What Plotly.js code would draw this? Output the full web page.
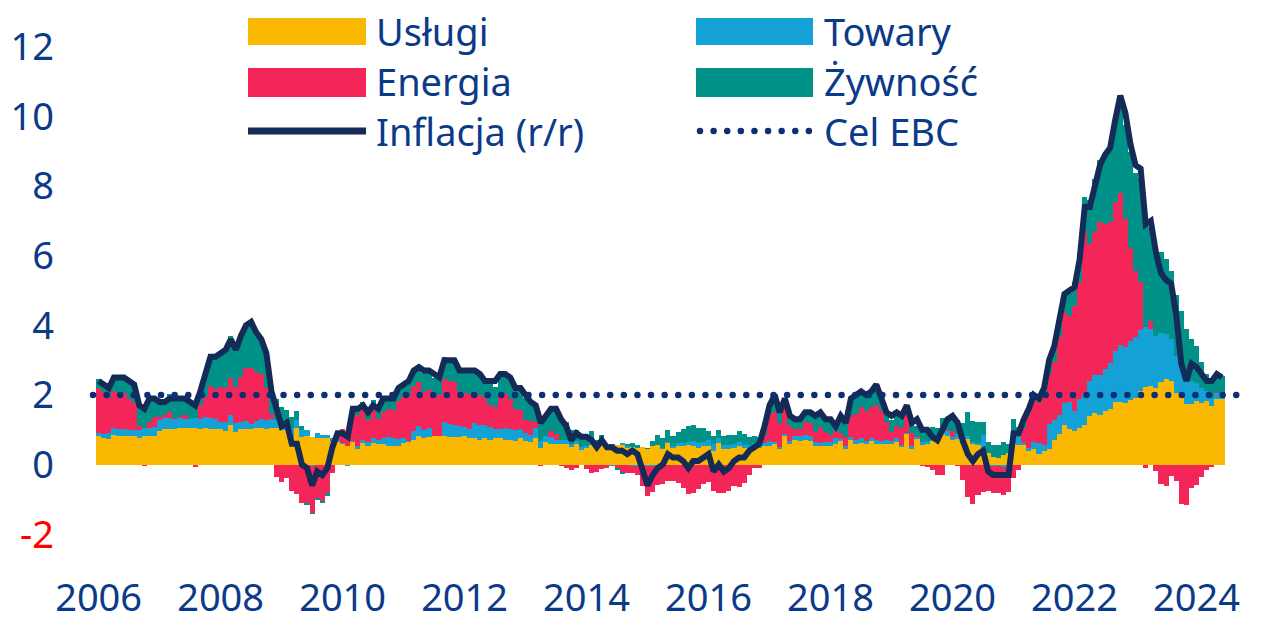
<!DOCTYPE html>
<html>
<head>
<meta charset="utf-8">
<script src="https://cdn.plot.ly/plotly-3.0.1.min.js"></script>
<style>
html,body{margin:0;padding:0;background:#ffffff;}
#chart{width:1274px;height:637px;}
</style>
</head>
<body>
<div id="chart"></div>
<script>
// ---- categories: monthly, Jan 2006 - Jun 2024 ----
const firstYear = 2006, lastYear = 2024, lastMonth = 6;
const months = [];
for (let y = firstYear; y <= lastYear; y++) {
  for (let m = 1; m <= 12; m++) {
    if (y === lastYear && m > lastMonth) break;
    months.push(y + '-' + String(m).padStart(2, '0'));
  }
}
const tickYears = ['2006','2008','2010','2012','2014','2016','2018','2020','2022','2024'];

// ---- series (contributions, pp) ----
const inflacja = [
  2.4,2.3,2.2,2.5,2.5,2.5,2.4,2.3,1.7,1.6,1.9,1.9,
  1.8,1.8,1.9,1.9,1.9,1.9,1.8,1.7,2.1,2.6,3.1,3.1,
  3.2,3.3,3.6,3.3,3.7,4.0,4.1,3.8,3.6,3.2,2.1,1.6,
  1.1,1.2,0.6,0.6,0.0,-0.1,-0.6,-0.2,-0.3,-0.1,0.5,0.9,
  0.9,0.8,1.6,1.6,1.7,1.5,1.7,1.6,1.9,1.9,1.9,2.2,
  2.3,2.4,2.7,2.8,2.7,2.7,2.6,2.5,3.0,3.0,3.0,2.7,
  2.7,2.7,2.7,2.6,2.4,2.4,2.4,2.6,2.6,2.5,2.2,2.2,
  2.0,1.8,1.7,1.2,1.4,1.6,1.6,1.3,1.1,0.7,0.9,0.8,
  0.8,0.7,0.5,0.7,0.5,0.5,0.4,0.4,0.3,0.4,0.3,-0.2,
  -0.6,-0.3,-0.1,0.0,0.3,0.2,0.2,0.1,-0.1,0.1,0.1,0.2,
  0.3,-0.2,0.0,-0.2,-0.1,0.1,0.2,0.2,0.4,0.5,0.6,1.1,
  1.7,2.0,1.5,1.9,1.4,1.3,1.3,1.5,1.5,1.4,1.5,1.3,
  1.3,1.1,1.4,1.2,1.9,2.0,2.1,2.0,2.1,2.3,1.9,1.5,
  1.4,1.5,1.4,1.7,1.2,1.3,1.0,1.0,0.8,0.7,1.0,1.3,
  1.4,1.2,0.7,0.3,0.1,0.3,0.4,-0.2,-0.3,-0.3,-0.3,-0.3,
  0.9,0.9,1.3,1.6,2.0,1.9,2.2,3.0,3.4,4.1,4.9,5.0,
  5.1,5.9,7.4,7.4,8.1,8.6,8.9,9.1,9.9,10.6,10.1,9.2,
  8.6,8.5,6.9,7.0,6.1,5.5,5.3,5.2,4.3,2.9,2.4,2.9,
  2.8,2.6,2.4,2.4,2.6,2.5
];
const uslugi = [
  0.81,0.77,0.73,0.85,0.81,0.81,0.81,0.81,0.77,0.81,0.81,0.81,
  0.97,1.01,1.01,1.01,1.05,1.05,1.05,1.05,1.01,1.05,1.01,1.01,
  1.01,0.97,1.13,0.93,1.01,1.01,1.01,1.05,1.05,1.01,1.05,1.05,
  1.00,1.00,0.79,1.04,0.79,0.83,0.79,0.75,0.75,0.75,0.66,0.66,
  0.58,0.54,0.66,0.46,0.62,0.54,0.62,0.58,0.58,0.54,0.54,0.54,
  0.62,0.66,0.71,0.83,0.75,0.79,0.83,0.83,0.83,0.79,0.79,0.79,
  0.81,0.77,0.77,0.72,0.77,0.72,0.77,0.77,0.72,0.72,0.68,0.77,
  0.68,0.64,0.77,0.47,0.64,0.60,0.60,0.60,0.60,0.51,0.60,0.43,
  0.47,0.55,0.47,0.68,0.47,0.55,0.55,0.55,0.47,0.51,0.47,0.51,
  0.44,0.52,0.57,0.44,0.61,0.48,0.52,0.52,0.57,0.52,0.48,0.52,
  0.53,0.40,0.62,0.44,0.44,0.48,0.53,0.48,0.48,0.53,0.48,0.53,
  0.54,0.59,0.45,0.81,0.59,0.72,0.68,0.72,0.68,0.54,0.54,0.54,
  0.54,0.59,0.68,0.45,0.72,0.59,0.63,0.59,0.68,0.59,0.59,0.59,
  0.60,0.64,0.51,0.87,0.46,0.74,0.55,0.60,0.69,0.69,0.87,0.83,
  0.70,0.74,0.60,0.74,0.60,0.56,0.42,0.33,0.23,0.19,0.28,0.33,
  0.59,0.55,0.55,0.38,0.46,0.29,0.38,0.46,0.71,0.88,1.13,1.01,
  0.97,1.05,1.13,1.39,1.47,1.43,1.55,1.60,1.81,1.81,1.76,1.85,
  1.92,2.10,2.23,2.27,2.19,2.36,2.45,2.40,2.05,2.01,1.75,1.75,
  1.83,1.78,1.83,1.69,1.87,1.87
];
const towary = [
  0.09,0.12,0.18,0.21,0.21,0.21,0.18,0.18,0.21,0.24,0.24,0.27,
  0.30,0.33,0.33,0.30,0.30,0.27,0.27,0.30,0.30,0.33,0.33,0.30,
  0.21,0.24,0.30,0.27,0.21,0.24,0.15,0.21,0.27,0.27,0.27,0.24,
  0.15,0.20,0.26,0.23,0.20,0.17,-0.03,0.15,0.09,0.09,0.09,0.06,
  0.03,-0.03,0.03,0.06,0.09,0.12,0.15,0.12,0.17,0.26,0.23,0.20,
  0.15,0.03,0.26,0.29,0.23,0.26,-0.02,0.00,0.38,0.38,0.35,0.32,
  0.28,0.25,0.42,0.42,0.36,0.36,0.25,0.25,0.34,0.31,0.31,0.25,
  0.22,0.22,0.28,0.22,0.17,0.20,0.11,0.11,0.11,0.08,0.08,0.08,
  0.05,0.11,0.05,0.03,0.00,-0.03,0.00,0.08,0.05,-0.03,-0.03,0.00,
  -0.03,-0.03,-0.03,0.03,0.05,0.05,0.11,0.11,0.08,0.16,0.13,0.13,
  0.19,0.19,0.13,0.13,0.13,0.11,0.11,0.08,0.08,0.08,0.08,0.08,
  0.13,0.05,0.05,0.08,0.08,0.11,0.13,0.13,0.13,0.11,0.08,0.11,
  0.11,0.16,0.05,0.08,0.08,0.11,0.13,0.08,0.08,0.11,0.08,0.11,
  0.08,0.13,0.05,0.05,0.08,0.05,0.11,0.08,0.08,0.08,0.11,0.13,
  0.08,0.13,0.13,0.08,0.05,0.05,0.42,-0.03,-0.03,-0.03,-0.08,-0.13,
  0.41,0.27,0.08,0.11,0.19,0.32,0.19,0.70,0.57,0.54,0.65,0.78,
  0.56,0.82,0.90,1.01,1.11,1.14,1.19,1.33,1.46,1.62,1.62,1.70,
  1.74,1.77,1.72,1.61,1.51,1.43,1.30,1.22,1.07,0.91,0.75,0.65,
  0.51,0.41,0.28,0.23,0.18,0.18
];
const energia = [
  1.29,1.19,1.00,1.05,1.05,1.05,0.90,0.77,0.14,-0.05,0.18,0.28,
  0.09,0.08,0.17,0.04,0.03,0.09,-0.02,-0.08,0.40,0.55,0.92,0.87,
  1.01,0.99,1.06,1.03,1.30,1.53,1.62,1.39,1.28,0.91,0.12,-0.35,
  -0.50,-0.39,-0.77,-0.84,-1.10,-1.11,-1.37,-0.97,-1.05,-0.81,-0.23,0.17,
  0.40,0.33,0.72,0.91,0.92,0.62,0.81,0.61,0.77,0.80,0.79,1.10,
  1.20,1.31,1.30,1.25,1.11,1.09,1.18,1.18,1.24,1.24,1.23,0.97,
  0.97,1.00,0.89,0.85,0.77,0.64,0.64,0.93,0.96,0.84,0.60,0.55,
  0.39,0.39,0.17,-0.04,-0.02,0.16,0.16,-0.03,-0.09,-0.17,-0.11,0.00,
  -0.12,-0.23,-0.21,-0.12,-0.11,0.01,-0.10,-0.20,-0.23,-0.20,-0.26,-0.63,
  -0.88,-0.75,-0.57,-0.55,-0.48,-0.48,-0.53,-0.68,-0.85,-0.81,-0.69,-0.55,
  -0.51,-0.77,-0.83,-0.83,-0.77,-0.61,-0.64,-0.53,-0.29,-0.09,-0.10,0.25,
  0.77,0.88,0.70,0.72,0.43,0.18,0.21,0.38,0.37,0.29,0.45,0.28,
  0.21,0.20,0.19,0.25,0.58,0.76,0.90,0.87,0.90,1.02,0.86,0.52,
  0.26,0.34,0.50,0.50,0.36,0.02,-0.05,-0.06,-0.17,-0.29,-0.30,0.02,
  0.18,-0.03,-0.43,-0.92,-1.13,-0.88,-0.80,-0.74,-0.78,-0.79,-0.79,-0.66,
  -0.40,-0.16,0.41,0.99,1.24,1.20,1.36,1.46,1.67,2.25,2.61,2.47,
  3.02,3.36,4.65,3.94,4.11,4.41,4.16,4.05,4.27,4.36,3.66,2.68,
  1.89,1.37,-0.09,0.24,-0.18,-0.56,-0.61,-0.33,-0.46,-1.12,-1.15,-0.67,
  -0.58,-0.35,-0.17,-0.06,0.03,0.02
];
const zywnosc = [
  0.28,0.28,0.33,0.42,0.46,0.46,0.52,0.52,0.55,0.56,0.60,0.58,
  0.47,0.47,0.51,0.51,0.45,0.47,0.49,0.49,0.50,0.70,0.84,0.86,
  1.01,1.09,1.19,1.07,1.15,1.17,1.25,1.12,1.01,0.95,0.68,0.60,
  0.49,0.37,0.31,0.27,0.12,-0.04,-0.02,-0.04,-0.04,-0.10,-0.02,0.00,
  -0.02,0.02,0.10,0.16,0.16,0.18,0.27,0.33,0.33,0.31,0.35,0.41,
  0.37,0.45,0.47,0.47,0.53,0.53,0.49,0.53,0.64,0.59,0.62,0.59,
  0.62,0.64,0.64,0.60,0.59,0.62,0.57,0.59,0.57,0.57,0.60,0.62,
  0.62,0.53,0.53,0.57,0.62,0.62,0.68,0.62,0.51,0.39,0.31,0.33,
  0.33,0.29,0.20,0.14,0.02,0.04,-0.06,-0.06,0.06,0.10,0.10,0.00,
  0.05,0.15,0.28,0.30,0.33,0.30,0.30,0.38,0.45,0.45,0.45,0.40,
  0.25,0.22,0.25,0.25,0.27,0.27,0.33,0.32,0.24,0.20,0.22,0.28,
  0.33,0.49,0.35,0.29,0.29,0.25,0.27,0.27,0.37,0.43,0.43,0.41,
  0.37,0.20,0.41,0.51,0.51,0.53,0.49,0.47,0.51,0.43,0.37,0.35,
  0.34,0.44,0.29,0.29,0.30,0.30,0.27,0.27,0.32,0.29,0.36,0.38,
  0.40,0.42,0.46,0.68,0.61,0.61,0.38,0.32,0.34,0.36,0.36,0.25,
  0.32,0.27,0.23,0.11,0.13,0.11,0.34,0.42,0.40,0.42,0.46,0.67,
  0.70,0.84,1.00,1.26,1.50,1.78,1.96,2.12,2.36,2.62,2.72,2.76,
  2.82,3.00,3.08,2.70,2.50,2.32,2.16,1.94,1.76,1.48,1.38,1.22,
  1.08,0.77,0.50,0.54,0.50,0.48
];
const celEBC = 2;

// ---- styles ----
const FONT = '"Noto Sans", "Open Sans", sans-serif';
const TXT = '#0B3A88';
const C = {
  uslugi: '#FBB800', towary: '#14A2D6', energia: '#F42559', zywnosc: '#009188',
  line: '#142B58', dots: '#0B2F72'
};

// ---- plot geometry (pixels) ----
const W = 1274, H = 637;
const M = {l: 91, r: 19, t: 12, b: 68};
const PW = W - M.l - M.r, PH = H - M.t - M.b;
const px = x => (x - M.l) / PW;
const py = y => (H - M.b - y) / PH;

const bar = (name, y, color) => ({
  type: 'bar', name: name, x: months, y: y,
  marker: {color: color, line: {width: 0}},
  hoverinfo: 'skip', showlegend: false
});

const data = [
  bar('Usługi', uslugi, C.uslugi),
  bar('Towary', towary, C.towary),
  bar('Energia', energia, C.energia),
  bar('Żywność', zywnosc, C.zywnosc),
  {type: 'scatter', mode: 'lines', name: 'Inflacja (r/r)', x: months, y: inflacja,
   line: {color: C.line, width: 6, shape: 'linear'}, hoverinfo: 'skip', showlegend: false},
  {type: 'scatter', mode: 'lines', name: 'axis-helper', x: [], y: [], yaxis: 'y2',
   hoverinfo: 'skip', showlegend: false}
];

const yCommon = {
  range: [-3, 13], showgrid: false, zeroline: false, showline: false,
  ticks: '', ticklabelstandoff: 36, fixedrange: true
};

const DOT_DASH = '6px,7.6px';
const shapes = [
  // ECB target (dotted)
  {type: 'line', xref: 'paper', yref: 'y', x0: px(93), x1: px(1244), y0: celEBC, y1: celEBC,
   line: {color: C.dots, width: 6.5, dash: DOT_DASH}, layer: 'above'},
  // legend swatches
  {type: 'rect', xref: 'paper', yref: 'paper', x0: px(248), x1: px(366), y0: py(45), y1: py(18),
   fillcolor: C.uslugi, line: {width: 0}},
  {type: 'rect', xref: 'paper', yref: 'paper', x0: px(248), x1: px(366), y0: py(97), y1: py(68),
   fillcolor: C.energia, line: {width: 0}},
  {type: 'line', xref: 'paper', yref: 'paper', x0: px(248), x1: px(366), y0: py(131), y1: py(131),
   line: {color: C.line, width: 7}},
  {type: 'rect', xref: 'paper', yref: 'paper', x0: px(696), x1: px(813), y0: py(45), y1: py(18),
   fillcolor: C.towary, line: {width: 0}},
  {type: 'rect', xref: 'paper', yref: 'paper', x0: px(696), x1: px(813), y0: py(97), y1: py(68),
   fillcolor: C.zywnosc, line: {width: 0}},
  {type: 'line', xref: 'paper', yref: 'paper', x0: px(700), x1: px(812), y0: py(131), y1: py(131),
   line: {color: C.dots, width: 6.5, dash: DOT_DASH}}
];

const legText = (text, x, y) => ({
  text: text, xref: 'paper', yref: 'paper', x: px(x), y: py(y),
  xanchor: 'left', yanchor: 'middle', showarrow: false,
  font: {family: FONT, size: 38, color: TXT}
});
const annotations = [
  legText('Usługi', 374, 31),
  legText('Energia', 374, 81),
  legText('Inflacja (r/r)', 374, 131),
  legText('Towary', 822, 31),
  legText('Żywność', 822, 81),
  legText('Cel EBC', 822, 131)
];

const layout = {
  width: W, height: H,
  margin: M,
  paper_bgcolor: '#ffffff', plot_bgcolor: '#ffffff',
  font: {family: FONT, color: TXT},
  barmode: 'relative', bargap: 0,
  showlegend: false,
  xaxis: {
    type: 'category', range: [-1.5, 227.5],
    tickvals: tickYears.map(y => y + '-01'), ticktext: tickYears,
    tickfont: {family: FONT, size: 38, color: TXT},
    showgrid: false, zeroline: false, showline: false, ticks: '',
    ticklabelstandoff: 3, fixedrange: true
  },
  yaxis: Object.assign({}, yCommon, {
    tickvals: [0, 2, 4, 6, 8, 10, 12],
    tickfont: {family: FONT, size: 38, color: TXT}
  }),
  yaxis2: Object.assign({}, yCommon, {
    overlaying: 'y', side: 'left', anchor: 'x',
    tickvals: [-2], ticktext: ['-2'],
    tickfont: {family: FONT, size: 38, color: '#FF0000'}
  }),
  shapes: shapes,
  annotations: annotations
};

// round the dots of the dotted (target) lines
function roundDots(gd) {
  gd.querySelectorAll('.shapelayer path, .layer-above path').forEach(p => {
    const da = p.style.strokeDasharray || p.getAttribute('stroke-dasharray') || '';
    if (da && da !== 'none' && da.indexOf('6') === 0) {
      p.style.strokeLinecap = 'round';
      p.style.strokeDasharray = '0.01px,13.6px';
    }
  });
}

Plotly.newPlot('chart', data, layout, {displayModeBar: false, staticPlot: true})
  .then(gd => roundDots(gd));
</script>
</body>
</html>
